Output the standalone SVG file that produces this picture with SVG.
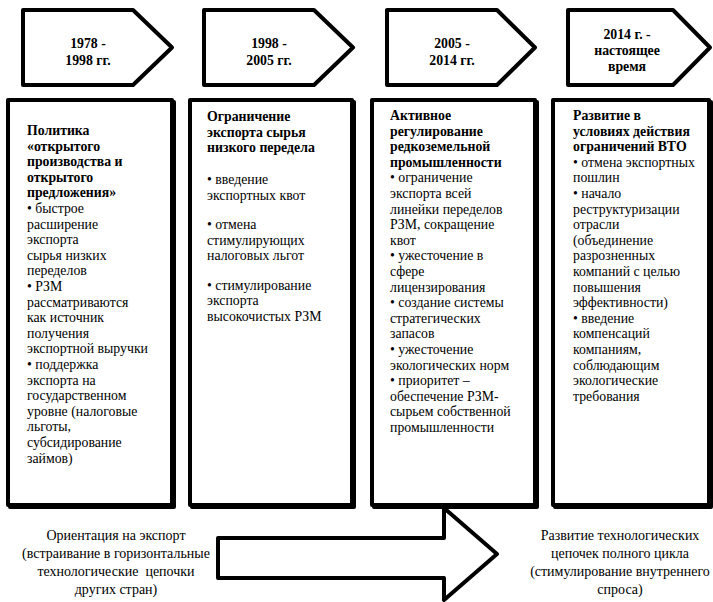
<svg xmlns="http://www.w3.org/2000/svg" width="713" height="602" viewBox="0 0 713 602" font-family="'Liberation Serif', 'Times New Roman', serif" font-size="13.8">
<style>
  .shape { fill: #fff; stroke: #000; stroke-width: 4; stroke-linejoin: round; }
  .shadow { fill: #000; stroke: #000; stroke-width: 4; stroke-linejoin: round; }
  .b { font-weight: bold; }
  .c { text-anchor: middle; }
  .lbl { font-size: 14px; }
</style>
<rect x="0" y="0" width="713" height="602" fill="#fff"/>

<g id="period-1">
  <path class="shape" d="M23,10 H133 L172,47.5 L133,85 H23 Z"/>
  <text class="b c"><tspan x="88" y="48">1978 -</tspan><tspan x="88" y="65">1998 гг.</tspan></text>
</g>
<g id="period-2">
  <path class="shape" d="M204,10 H314 L353,47.5 L314,85 H204 Z"/>
  <text class="b c"><tspan x="269" y="48">1998 -</tspan><tspan x="269" y="65">2005 гг.</tspan></text>
</g>
<g id="period-3">
  <path class="shape" d="M387,10 H497 L535,47.5 L497,85 H387 Z"/>
  <text class="b c"><tspan x="452" y="48">2005 -</tspan><tspan x="452" y="65">2014 гг.</tspan></text>
</g>
<g id="period-4">
  <path class="shape" d="M568,10 H673 L710,47.5 L673,85 H568 Z"/>
  <text class="b c"><tspan x="627" y="39">2014 г. -</tspan><tspan x="627" y="55">настоящее</tspan><tspan x="627" y="71">время</tspan></text>
</g>

<g id="box-1">
  <rect class="shadow" x="10" y="102" width="164" height="405"/>
  <rect class="shape" x="8" y="100" width="164" height="405"/>
  <text x="27" y="135">
    <tspan class="b" x="27" dy="0">Политика</tspan>
    <tspan class="b" x="27" dy="15.6">«открытого</tspan>
    <tspan class="b" x="27" dy="15.6">производства и</tspan>
    <tspan class="b" x="27" dy="15.6">открытого</tspan>
    <tspan class="b" x="27" dy="15.6">предложения»</tspan>
    <tspan x="27" dy="15.6">•  быстрое</tspan>
    <tspan x="27" dy="15.6">расширение</tspan>
    <tspan x="27" dy="15.6">экспорта</tspan>
    <tspan x="27" dy="15.6">сырья низких</tspan>
    <tspan x="27" dy="15.6">переделов</tspan>
    <tspan x="27" dy="15.6">• РЗМ</tspan>
    <tspan x="27" dy="15.6">рассматриваются</tspan>
    <tspan x="27" dy="15.6">как источник</tspan>
    <tspan x="27" dy="15.6">получения</tspan>
    <tspan x="27" dy="15.6">экспортной выручки</tspan>
    <tspan x="27" dy="15.6">• поддержка</tspan>
    <tspan x="27" dy="15.6">экспорта на</tspan>
    <tspan x="27" dy="15.6">государственном</tspan>
    <tspan x="27" dy="15.6">уровне (налоговые</tspan>
    <tspan x="27" dy="15.6">льготы,</tspan>
    <tspan x="27" dy="15.6">субсидирование</tspan>
    <tspan x="27" dy="15.6">займов)</tspan>
  </text>
</g>

<g id="box-2">
  <rect class="shadow" x="192" y="102" width="162" height="405"/>
  <rect class="shape" x="190" y="100" width="162" height="405"/>
  <text>
    <tspan class="b" x="207" y="121">Ограничение</tspan>
    <tspan class="b" x="207" y="136.6">экспорта сырья</tspan>
    <tspan class="b" x="207" y="152.2">низкого передела</tspan>
    <tspan x="207" y="184">• введение</tspan>
    <tspan x="207" y="199.6">экспортных квот</tspan>
    <tspan x="207" y="229">• отмена</tspan>
    <tspan x="207" y="244.6">стимулирующих</tspan>
    <tspan x="207" y="260.2">налоговых льгот</tspan>
    <tspan x="207" y="289.6">• стимулирование</tspan>
    <tspan x="207" y="305.2">экспорта</tspan>
    <tspan x="207" y="320.8">высокочистых РЗМ</tspan>
  </text>
</g>

<g id="box-3">
  <rect class="shadow" x="374" y="102" width="163" height="405"/>
  <rect class="shape" x="372" y="100" width="163" height="405"/>
  <text x="390" y="120">
    <tspan class="b" x="390" dy="0">Активное</tspan>
    <tspan class="b" x="390" dy="15.6">регулирование</tspan>
    <tspan class="b" x="390" dy="15.6">редкоземельной</tspan>
    <tspan class="b" x="390" dy="15.6">промышленности</tspan>
    <tspan x="390" dy="15.6">• ограничение</tspan>
    <tspan x="390" dy="15.6">экспорта всей</tspan>
    <tspan x="390" dy="15.6">линейки переделов</tspan>
    <tspan x="390" dy="15.6">РЗМ, сокращение</tspan>
    <tspan x="390" dy="15.6">квот</tspan>
    <tspan x="390" dy="15.6">• ужесточение в</tspan>
    <tspan x="390" dy="15.6">сфере</tspan>
    <tspan x="390" dy="15.6">лицензирования</tspan>
    <tspan x="390" dy="15.6">• создание системы</tspan>
    <tspan x="390" dy="15.6">стратегических</tspan>
    <tspan x="390" dy="15.6">запасов</tspan>
    <tspan x="390" dy="15.6">• ужесточение</tspan>
    <tspan x="390" dy="15.6">экологических норм</tspan>
    <tspan x="390" dy="15.6">• приоритет –</tspan>
    <tspan x="390" dy="15.6">обеспечение РЗМ-</tspan>
    <tspan x="390" dy="15.6">сырьем собственной</tspan>
    <tspan x="390" dy="15.6">промышленности</tspan>
  </text>
</g>

<g id="box-4">
  <rect class="shadow" x="555" y="102" width="156" height="405"/>
  <rect class="shape" x="553" y="100" width="156" height="405"/>
  <text x="573" y="120">
    <tspan class="b" x="573" dy="0">Развитие в</tspan>
    <tspan class="b" x="573" dy="15.6">условиях действия</tspan>
    <tspan class="b" x="573" dy="15.6">ограничений ВТО</tspan>
    <tspan x="573" dy="15.6">• отмена экспортных</tspan>
    <tspan x="573" dy="15.6">пошлин</tspan>
    <tspan x="573" dy="15.6">• начало</tspan>
    <tspan x="573" dy="15.6">реструктуризации</tspan>
    <tspan x="573" dy="15.6">отрасли</tspan>
    <tspan x="573" dy="15.6">(объединение</tspan>
    <tspan x="573" dy="15.6">разрозненных</tspan>
    <tspan x="573" dy="15.6">компаний с целью</tspan>
    <tspan x="573" dy="15.6">повышения</tspan>
    <tspan x="573" dy="15.6">эффективности)</tspan>
    <tspan x="573" dy="15.6">• введение</tspan>
    <tspan x="573" dy="15.6">компенсаций</tspan>
    <tspan x="573" dy="15.6">компаниям,</tspan>
    <tspan x="573" dy="15.6">соблюдающим</tspan>
    <tspan x="573" dy="15.6">экологические</tspan>
    <tspan x="573" dy="15.6">требования</tspan>
  </text>
</g>

<g id="connectors">
  <path id="direction-arrow" class="shape" d="M218,538 H444 V508 L497,554 L444,600 V578 H218 Z"/>
</g>

<g id="label-left">
  <text class="c lbl" xml:space="preserve"><tspan x="116" y="540">Ориентация на экспорт</tspan><tspan x="116" y="558">(встраивание в горизонтальные</tspan><tspan x="116" y="576">технологические  цепочки</tspan><tspan x="116" y="594">других стран)</tspan></text>
</g>
<g id="label-right">
  <text class="c lbl"><tspan x="620" y="540">Развитие технологических</tspan><tspan x="620" y="558">цепочек полного цикла</tspan><tspan x="620" y="576">(стимулирование внутреннего</tspan><tspan x="620" y="594">спроса)</tspan></text>
</g>
</svg>
